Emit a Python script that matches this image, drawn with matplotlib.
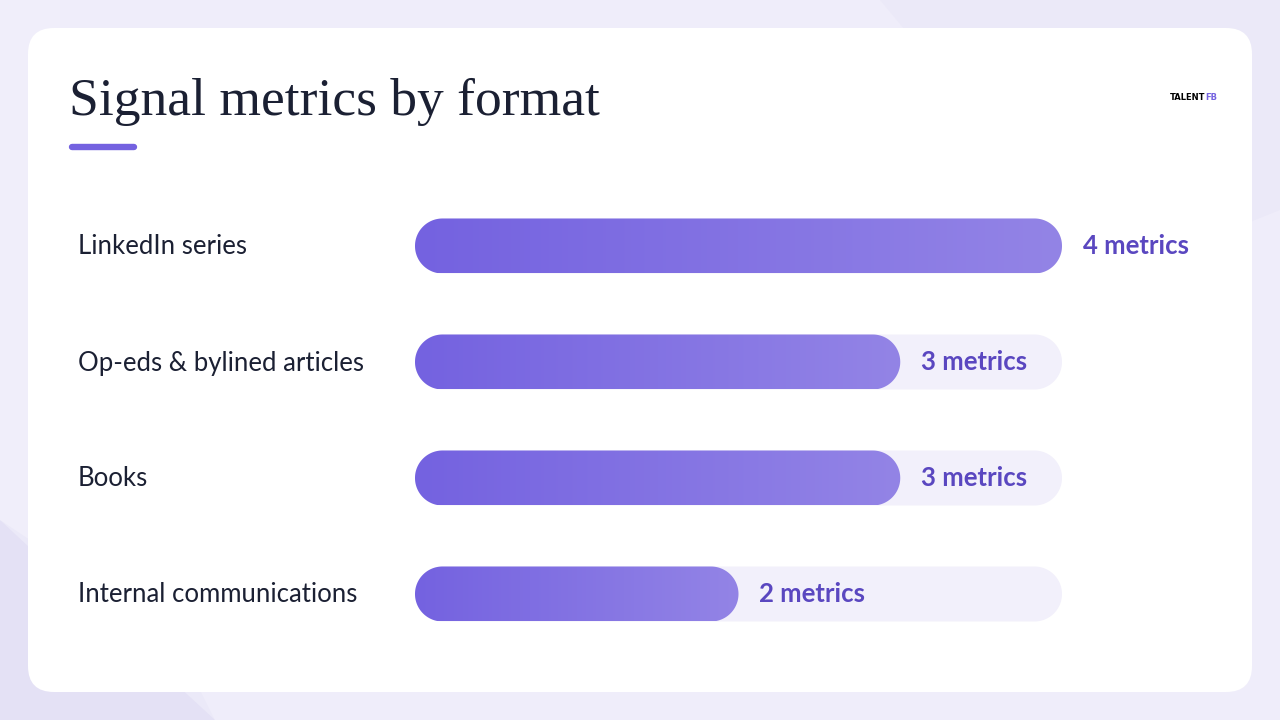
import numpy as np
import matplotlib.pyplot as plt
from matplotlib.patches import FancyBboxPatch, Polygon, PathPatch
from matplotlib.path import Path
from matplotlib.colors import LinearSegmentedColormap
from matplotlib.transforms import blended_transform_factory

# data
formats = ['LinkedIn series', 'Op-eds & bylined articles', 'Books', 'Internal communications']
metrics = [4, 3, 3, 2]
max_metrics = 4
value_labels = ['%d metrics' % v for v in metrics]

W, H = 1280, 720
BG = '#ebe9f8'
TRACK = '#f2f0fb'
PURPLE = '#7462e0'
TEXT_PURPLE = '#5a47c0'
DARK = '#1b2033'


# pill shape in data units, fully rounded ends
def pill(x1, yc, hh, rx):
	t = np.linspace(-np.pi / 2, np.pi / 2, 60)
	xr = x1 - rx + rx * np.cos(t)
	yr = yc + hh * np.sin(t)
	xl = rx - rx * np.cos(t)
	yl = yc - hh * np.sin(t)
	verts = np.vstack([np.column_stack([xr, yr]), np.column_stack([xl, yl]), [[xr[0], yr[0]]]])
	codes = [Path.MOVETO] + [Path.LINETO] * (len(verts) - 2) + [Path.CLOSEPOLY]
	return Path(verts, codes)


fig = plt.figure(figsize=(12.8, 7.2), dpi=100)
fig.patch.set_facecolor(BG)

# background layer in pixel units
bg = fig.add_axes([0, 0, 1, 1], zorder=0)
bg.set_xlim(0, W)
bg.set_ylim(H, 0)
bg.axis('off')

# soft shapes behind the card
bg.add_patch(Polygon([(0, 0), (880, 0), (930, 60), (0, 60)], closed=True, color='#efedfa', lw=0))
bg.add_patch(Polygon([(0, 110), (0, 720), (215, 720), (150, 660), (0, 520)], closed=True, color='#e4e1f5', lw=0))
bg.add_patch(Polygon([(0, 0), (0, 520), (60, 560), (60, 0)], closed=True, color='#f0eefa', lw=0))
bg.add_patch(Polygon([(215, 720), (1280, 720), (1280, 210), (1230, 230), (1230, 690), (200, 690)],
                     closed=True, color='#efedfa', lw=0))

# white card
card = FancyBboxPatch((28, 28), 1224, 664, boxstyle='round,pad=0,rounding_size=26',
                      fc='white', ec='none')
bg.add_patch(card)

# title and accent
bg.text(69, 115, 'Signal metrics by format', family='Liberation Serif', fontsize=38.5,
        color=DARK, va='baseline', ha='left')
bg.plot([72, 134], [147, 147], color=PURPLE, lw=4.6, solid_capstyle='round')

# logo
logo = bg.text(1170, 97, 'TALENT', family='DejaVu Sans', fontsize=6,
               weight='bold', color='black', va='center', ha='left')
bg.annotate('FB', xy=(1, 0.5), xycoords=logo, family='DejaVu Sans',
            fontsize=6, weight='bold', color=PURPLE, va='center', ha='left')

# bar chart axes: x 0..4 -> 415..1062 px, rows 116 px apart
left, right = 415, 1062
top, bottom = 188, 652
ax = fig.add_axes([left / W, (H - bottom) / H, (right - left) / W, (bottom - top) / H], zorder=1)
ax.set_xlim(0, max_metrics)
ax.set_ylim(len(formats) - 0.5, -0.5)
ax.axis('off')

bar_h = 55 / 116
px_x = (right - left) / max_metrics
px_y = (bottom - top) / len(formats)
rx = (bar_h / 2) * px_y / px_x          # end radius in x units

cmap = LinearSegmentedColormap.from_list('bar', ['#7462e0', '#9384e6'])
grad = np.linspace(0, 1, 256).reshape(1, -1)

label_tf = blended_transform_factory(fig.transFigure, ax.transData)
base = 8.5 / px_y   # baseline sits a little below the bar centre

for i, (name, v, lab) in enumerate(zip(formats, metrics, value_labels)):
	ax.add_patch(PathPatch(pill(max_metrics, i, bar_h / 2, rx), fc=TRACK, ec='none', zorder=1))
	bar = PathPatch(pill(v, i, bar_h / 2, rx), fc='none', ec='none')
	ax.add_patch(bar)
	im = ax.imshow(grad, cmap=cmap, aspect='auto',
	               extent=(0, v, i + bar_h / 2, i - bar_h / 2),
	               interpolation='bicubic', zorder=2)
	im.set_clip_path(bar)
	ax.annotate(lab, (v, i + base), xytext=(15, 0), textcoords='offset points',
	            family='Lato', fontsize=18.5, weight='bold', color=TEXT_PURPLE,
	            va='baseline', ha='left', zorder=3)
	ax.text(78 / W, i + base, name, transform=label_tf, family='Lato', fontsize=18.5,
	        color=DARK, va='baseline', ha='left')

ax.set_xlim(0, max_metrics)
ax.set_ylim(len(formats) - 0.5, -0.5)

fig.savefig('out.png', dpi=100, facecolor=fig.get_facecolor())
